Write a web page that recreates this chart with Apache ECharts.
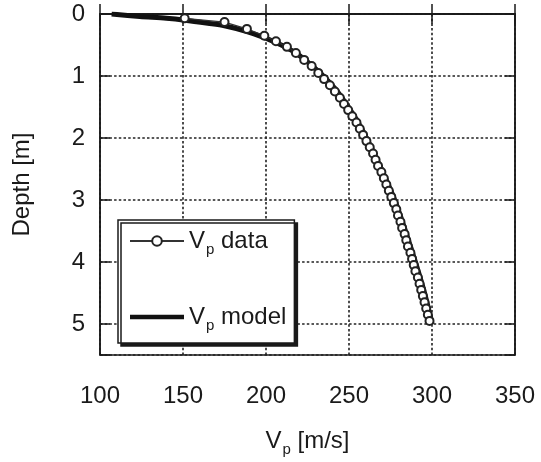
<!DOCTYPE html>
<html>
<head>
<meta charset="utf-8">
<script src="https://cdn.jsdelivr.net/npm/echarts@6/dist/echarts.min.js"></script>
<style>
html,body{margin:0;padding:0;background:#fff;}
#chart{width:541px;height:462px;}
</style>
</head>
<body>
<div id="chart"></div>
<script>
// ---- data ----
var xTicks = [100, 150, 200, 250, 300, 350];
var yTicks = [0, 1, 2, 3, 4, 5];

var dataDepth = [0.07, 0.13, 0.24, 0.35, 0.44, 0.53, 0.63, 0.74, 0.84, 0.95,
                 1.05, 1.15, 1.25, 1.35, 1.45, 1.55, 1.65, 1.75, 1.85, 1.95,
                 2.05, 2.15, 2.25, 2.35, 2.45, 2.55, 2.65, 2.75, 2.85, 2.95,
                 3.05, 3.15, 3.25, 3.35, 3.45, 3.55, 3.65, 3.75, 3.85, 3.95,
                 4.05, 4.15, 4.25, 4.35, 4.45, 4.55, 4.65, 4.75, 4.85, 4.95];
var dataVp = [151, 175, 188.5, 199, 206, 212.6, 218, 223, 227.5, 231.5,
              235, 238.5, 241.5, 244.5, 247, 249.5, 252, 254.5, 256.5, 258.5,
              260.5, 262.5, 264.5, 266, 267.5, 269.5, 271, 272.5, 274, 275.5,
              277, 278.5, 279.5, 281, 282, 283.5, 284.5, 285.5, 287, 288,
              289, 290, 291.5, 292.5, 293.5, 294.5, 295.5, 296.5, 297.5, 298.5];

var modelDepth = [0, 0.04, 0.07, 0.1, 0.15, 0.19, 0.28, 0.38, 0.46, 0.55, 0.64, 0.74,
                  0.84, 1.0, 1.25, 1.5, 1.75, 2.0, 2.5, 3.0, 3.5, 4.0, 4.5, 5.0];
var modelVp = [107, 124, 140, 151, 165, 175, 188, 199, 206, 213, 218.5, 223.5,
               228, 234.5, 243, 249.5, 255.5, 260.5, 269.5, 277.5, 284, 290, 295.5, 300];

var seriesNames = ['Vp data', 'Vp model'];

// ---- chart ----
var chart = echarts.init(document.getElementById('chart'), null, {renderer: 'canvas'});
var FONT = 'Liberation Sans, Arial, sans-serif';
var INK = '#1a1a1a';
var gridLine = {show: true, lineStyle: {color: '#222', width: 1.6, type: [2.5, 2.2]}};

var richText = {
  v: {fontSize: 24, fontFamily: FONT, color: INK},
  s: {fontSize: 15, fontFamily: FONT, color: INK, padding: [17, 0, 0, 1]}
};
var richName = {
  v: {fontSize: 24, fontFamily: FONT, color: INK},
  s: {fontSize: 15, fontFamily: FONT, color: INK, padding: [17, 0, 0, 1]}
};

var option = {
  backgroundColor: '#fff',
  animation: false,
  grid: {left: 100, right: 26, top: 14, bottom: 104, show: true,
         borderColor: INK, borderWidth: 1.5, backgroundColor: '#fff'},
  legend: {
    orient: 'vertical',
    left: 118, top: 220,
    data: [
      {name: seriesNames[0]},
      {name: seriesNames[1], icon: 'path://M0,0 L54,0 L54,4.5 L0,4.5 Z',
       itemStyle: {color: '#111', borderWidth: 0}}
    ],
    itemWidth: 54, itemHeight: 12, itemGap: 48,
    padding: [9, 8, 10, 11],
    backgroundColor: '#fff',
    borderColor: INK, borderWidth: 1.5, borderRadius: 0,
    shadowColor: INK, shadowBlur: 0, shadowOffsetX: 3, shadowOffsetY: 3,
    textStyle: {fontSize: 24, fontFamily: FONT, color: INK, rich: richText},
    formatter: function (name) {
      return '{v|V}{s|p}{v|' + name.slice(2) + '}';
    }
  },
  xAxis: [{
    type: 'value', position: 'bottom', min: xTicks[0], max: xTicks[xTicks.length - 1], interval: 50,
    name: '{v|V}{s|p}{v| [m/s]}', nameLocation: 'middle', nameGap: 70,
    nameTextStyle: {rich: richName},
    axisLine: {show: true, lineStyle: {color: INK, width: 1.5}},
    axisTick: {show: true, inside: true, length: 10, lineStyle: {color: INK, width: 1.5}},
    axisLabel: {margin: 29, fontSize: 24, fontFamily: FONT, color: INK},
    splitLine: gridLine
  }, {
    type: 'value', position: 'top', min: xTicks[0], max: xTicks[xTicks.length - 1], interval: 50,
    axisLine: {show: true, lineStyle: {color: INK, width: 1.5}},
    axisTick: {show: true, inside: true, length: 10, lineStyle: {color: INK, width: 1.5}},
    axisLabel: {show: false}, splitLine: {show: false}
  }],
  yAxis: [{
    type: 'value', position: 'left', inverse: true, min: 0, max: 5.5, interval: 1,
    name: 'Depth [m]', nameLocation: 'middle', nameGap: 66,
    nameTextStyle: {fontSize: 24, fontFamily: FONT, color: INK},
    axisLine: {show: true, lineStyle: {color: INK, width: 1.5}},
    axisTick: {show: true, inside: true, length: 10, lineStyle: {color: INK, width: 1.5}},
    axisLabel: {margin: 15, fontSize: 24, fontFamily: FONT, color: INK,
      formatter: function (v) { return yTicks.indexOf(v) >= 0 ? String(v) : ''; }},
    splitLine: gridLine
  }, {
    type: 'value', position: 'right', inverse: true, min: 0, max: 5.5, interval: 1,
    axisLine: {show: true, lineStyle: {color: INK, width: 1.5}},
    axisTick: {show: true, inside: true, length: 10, lineStyle: {color: INK, width: 1.5}},
    axisLabel: {show: false}, splitLine: {show: false}
  }],
  series: [{
    name: seriesNames[1], type: 'line', xAxisIndex: 0, yAxisIndex: 0,
    data: modelVp.map(function (v, i) { return [v, modelDepth[i]]; }),
    showSymbol: false, symbol: 'none', smooth: 0.3,
    lineStyle: {color: '#111', width: 5}, itemStyle: {color: '#111'}, z: 3
  }, {
    name: seriesNames[0], type: 'line', xAxisIndex: 0, yAxisIndex: 0,
    data: dataVp.map(function (v, i) { return [v, dataDepth[i]]; }),
    symbol: 'emptyCircle', symbolSize: 8, showSymbol: true,
    lineStyle: {color: '#333', width: 1.2},
    itemStyle: {color: '#222', borderWidth: 2}, z: 4
  }]
};
chart.setOption(option);
</script>
</body>
</html>
